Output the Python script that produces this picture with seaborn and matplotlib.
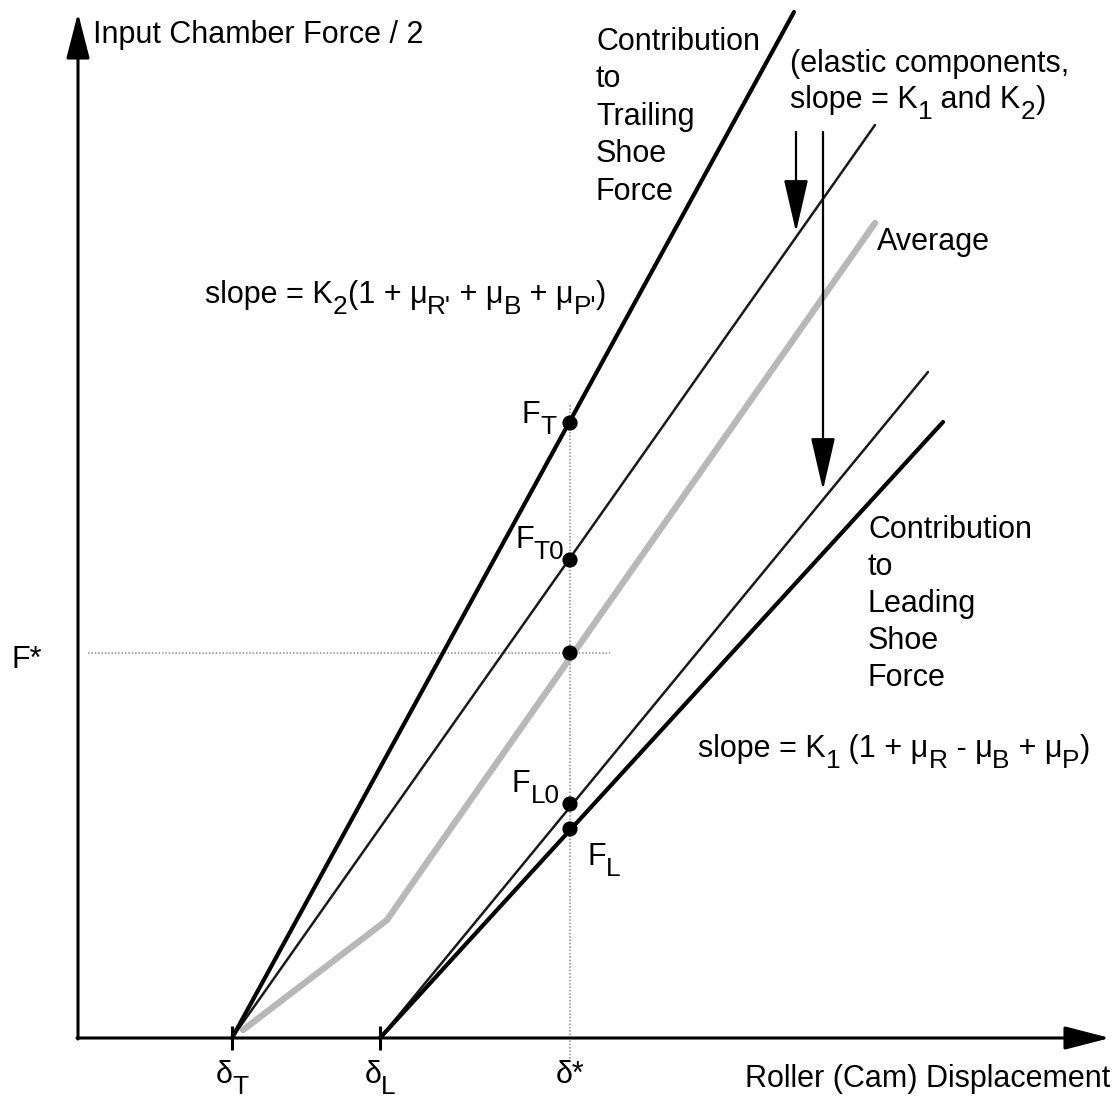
import numpy as np
import pandas as pd
import seaborn as sns
import matplotlib.pyplot as plt
from matplotlib.font_manager import FontProperties
from matplotlib.transforms import offset_copy

# positions on the displacement axis (arbitrary units)
delta_T = 1.54
delta_L = 3.02
delta_star = 4.92

# force curves (input chamber force / 2, arbitrary units)
trailing_x = [1.54, 7.16]
trailing_y = [0.0, 10.26]
trailing_elastic_x = [1.54, 7.97]
trailing_elastic_y = [0.0, 9.13]
average_x = [1.65, 3.09, 3.52, 7.97]
average_y = [0.08, 1.18, 1.80, 8.15]
leading_elastic_x = [3.02, 8.50]
leading_elastic_y = [0.0, 6.66]
leading_x = [3.02, 8.65]
leading_y = [0.0, 6.16]

# forces read at delta*
point_names = ['F_T', 'F_T0', 'avg', 'F_L0', 'F_L']
point_forces = [6.15, 4.78, 3.85, 2.34, 2.09]
F_star = 3.85

sns.set_theme(style='white')
plt.rcParams['font.family'] = ['Liberation Sans', 'DejaVu Sans']

curves = pd.concat([
    pd.DataFrame({'curve': 'average', 'x': average_x, 'y': average_y}),
    pd.DataFrame({'curve': 'trailing_elastic', 'x': trailing_elastic_x, 'y': trailing_elastic_y}),
    pd.DataFrame({'curve': 'leading_elastic', 'x': leading_elastic_x, 'y': leading_elastic_y}),
    pd.DataFrame({'curve': 'trailing', 'x': trailing_x, 'y': trailing_y}),
    pd.DataFrame({'curve': 'leading', 'x': leading_x, 'y': leading_y}),
], ignore_index=True)

styles = {
    'average': dict(color='#b8b8b8', lw=4.6),
    'trailing_elastic': dict(color='#1a1a1a', lw=1.8),
    'leading_elastic': dict(color='#1a1a1a', lw=1.8),
    'trailing': dict(color='black', lw=3.0),
    'leading': dict(color='black', lw=3.0),
}

fig = plt.figure(figsize=(11.2, 10.99), dpi=100)
ax = fig.add_axes([0, 0, 1, 1])

# dotted guides at delta* and F*
ax.plot([delta_star, delta_star], [-0.24, 6.33], color='#8c8c8c', lw=1.1, ls=(0, (1, 1.2)), zorder=1)
ax.plot([0.10, 5.32], [F_star, F_star], color='#8c8c8c', lw=1.1, ls=(0, (1, 1.2)), zorder=1)

for name, grp in curves.groupby('curve', sort=False):
    sns.lineplot(data=grp, x='x', y='y', ax=ax, estimator=None, sort=False,
                 legend=False, zorder=3, **styles[name])

sns.scatterplot(x=[delta_star] * len(point_forces), y=point_forces, ax=ax, s=120,
                color='black', edgecolor='none', zorder=5, legend=False)

# axes with arrow heads
axis_arrow = dict(arrowstyle='-|>,head_length=1.4,head_width=0.36', lw=2.2, color='black',
                  mutation_scale=20, shrinkA=0, shrinkB=0)
ax.annotate('', xy=(0, 10.25), xytext=(0, -0.01), arrowprops=axis_arrow, zorder=4)
ax.annotate('', xy=(10.32, 0), xytext=(-0.01, 0), arrowprops=axis_arrow, zorder=4)
ax.vlines([delta_T, delta_L], -0.12, 0.12, color='black', lw=2.2, zorder=4)

# arrows pointing at the elastic components
down_arrow = dict(arrowstyle='-|>,head_length=1.65,head_width=0.38', lw=1.6, color='black',
                  mutation_scale=20, shrinkA=0, shrinkB=0)
ax.annotate('', xy=(7.18, 8.06), xytext=(7.18, 9.06), arrowprops=down_arrow, zorder=4)
ax.annotate('', xy=(7.45, 5.48), xytext=(7.45, 9.06), arrowprops=down_arrow, zorder=4)

ax.set_xlim(-0.78, 10.42)
ax.set_ylim(-0.61, 10.38)
ax.axis('off')

fs = 22
sub_scale = 0.86
sub_drop = 0.36
renderer = fig.canvas.get_renderer()


def label(x, y, s, **kw):
    ax.text(x, y, s, fontsize=fs, va='baseline', color='black', **kw)


def text_width(s, size):
    # width in points, measured between bars so spaces are counted
    prop = FontProperties(family=['Liberation Sans'], size=size)
    w_bars = renderer.get_text_width_height_descent('||', prop, ismath=False)[0]
    w_full = renderer.get_text_width_height_descent('|' + s + '|', prop, ismath=False)[0]
    return (w_full - w_bars) * 72 / fig.dpi


def rich_label(x, y, parts, ha='left'):
    # parts alternate: normal, subscript, normal, subscript, ...
    sizes = [fs * sub_scale if i % 2 else fs for i in range(len(parts))]
    widths = [text_width(p, s) for p, s in zip(parts, sizes)]
    dx = 0.0
    if ha == 'center':
        dx = -sum(widths) / 2
    for i, (p, size, w) in enumerate(zip(parts, sizes, widths)):
        dy = -sub_drop * fs if i % 2 else 0.0
        tr = offset_copy(ax.transData, fig=fig, x=dx, y=dy, units='points')
        ax.text(x, y, p, fontsize=size, va='baseline', ha='left', color='black', transform=tr)
        dx += w


label(0.15, 9.95, 'Input Chamber Force / 2')
label(10.32, -0.49, 'Roller (Cam) Displacement', ha='right')

for i, w in enumerate(['Contribution', 'to', 'Trailing', 'Shoe', 'Force']):
    label(5.18, 9.88 - 0.375 * i, w)
for i, w in enumerate(['Contribution', 'to', 'Leading', 'Shoe', 'Force']):
    label(7.90, 5.00 - 0.37 * i, w)

label(7.12, 9.66, '(elastic components,')
rich_label(7.12, 9.30, ['slope = K', '1', ' and K', '2', ')'])
label(7.99, 7.88, 'Average')
rich_label(1.27, 7.35, ['slope = K', '2', '(1 + μ', "R'", ' + μ', 'B', ' + μ', "P'", ')'])
rich_label(6.20, 2.81, ['slope = K', '1', ' (1 + μ', 'R', ' - μ', 'B', ' + μ', 'P', ')'])

rich_label(4.44, 6.15, ['F', 'T'])
rich_label(4.37, 4.90, ['F', 'T0'])
rich_label(4.34, 2.46, ['F', 'L0'])
rich_label(5.09, 1.73, ['F', 'L'])
label(-0.66, 3.70, 'F*')

rich_label(delta_T, -0.45, ['δ', 'T'], ha='center')
rich_label(delta_L, -0.45, ['δ', 'L'], ha='center')
label(delta_star, -0.45, 'δ*', ha='center')

fig.savefig('out.png', dpi=100)
